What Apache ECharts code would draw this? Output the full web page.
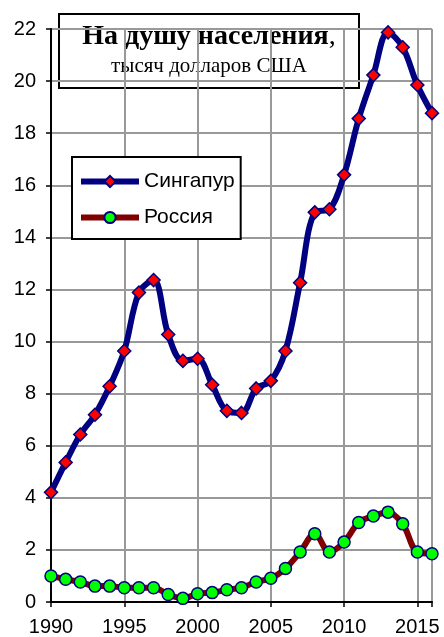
<!DOCTYPE html>
<html>
<head>
<meta charset="utf-8">
<script src="https://cdn.jsdelivr.net/npm/echarts@6/dist/echarts.min.js"></script>
<style>
  html, body { margin: 0; padding: 0; background: #fff; }
  #chart { width: 444px; height: 637px; }
</style>
</head>
<body>
<div id="chart"></div>
<script>
// годы
const years = [1990, 1991, 1992, 1993, 1994, 1995, 1996, 1997, 1998, 1999,
  2000, 2001, 2002, 2003, 2004, 2005, 2006, 2007, 2008, 2009,
  2010, 2011, 2012, 2013, 2014, 2015, 2016]
// Сингапур, тыс. долл. на душу
const singapore = [4.21, 5.36, 6.43, 7.19, 8.28, 9.64, 11.88, 12.36, 10.27, 9.26,
  9.34, 8.34, 7.34, 7.26, 8.20, 8.49, 9.64, 12.26, 14.96, 15.08,
  16.40, 18.56, 20.23, 21.87, 21.30, 19.85, 18.77]
// Россия
const russia = [1.00, 0.87, 0.77, 0.61, 0.61, 0.55, 0.55, 0.55, 0.29, 0.14,
  0.32, 0.36, 0.47, 0.55, 0.77, 0.91, 1.29, 1.92, 2.62, 1.92,
  2.30, 3.05, 3.30, 3.45, 3.00, 1.92, 1.85]
const yTicks = [0, 2, 4, 6, 8, 10, 12, 14, 16, 18, 20, 22]

const chart = echarts.init(document.getElementById('chart'))

const pairs = arr => arr.map((v, i) => [years[i], v])

chart.setOption({
  backgroundColor: '#fff',
  animation: false,
  grid: {
    left: 51,
    right: 12,
    top: 29,
    bottom: 34
  },
  xAxis: {
    type: 'value',
    min: 1990,
    max: 2016,
    interval: 5,
    axisLine: { lineStyle: { color: '#000', width: 2 } },
    axisTick: { show: true, length: 5, lineStyle: { color: '#000', width: 1.5 } },
    axisLabel: {
      color: '#000',
      fontSize: 20,
      fontFamily: 'Liberation Sans',
      margin: 15,
      formatter: v => (v === 2016 ? '' : String(v))
    },
    splitLine: { show: true, lineStyle: { color: '#999', width: 2 } }
  },
  yAxis: {
    type: 'value',
    min: yTicks[0],
    max: yTicks[yTicks.length - 1],
    interval: 2,
    axisLine: { show: true, lineStyle: { color: '#000', width: 2 } },
    axisTick: { show: true, length: 5, lineStyle: { color: '#000', width: 1.5 } },
    axisLabel: {
      color: '#000',
      fontSize: 20,
      fontFamily: 'Liberation Sans',
      margin: 15
    },
    splitLine: { show: true, lineStyle: { color: '#999', width: 2 } }
  },
  legend: {
    orient: 'vertical',
    left: 72,
    top: 157,
    backgroundColor: '#fff',
    borderColor: '#000',
    borderWidth: 2,
    padding: [14, 6, 11, 6],
    itemWidth: 58,
    itemHeight: 14,
    itemGap: 15,
    lineStyle: { width: 6 },
    textStyle: { color: '#000', fontSize: 21, fontFamily: 'Liberation Sans' },
    data: ['Сингапур', 'Россия']
  },
  graphic: [{
    type: 'group',
    left: 58,
    top: 13,
    z: 100,
    children: [{
      type: 'rect',
      shape: { x: 0, y: 0, width: 300, height: 74 },
      style: { fill: '#fff', stroke: '#000', lineWidth: 2 }
    }, {
      type: 'text',
      x: 150,
      y: 9,
      style: {
        text: '{b|На душу населения}{n|,}',
        align: 'center',
        rich: {
          b: { fontFamily: 'Liberation Serif', fontWeight: 'bold', fontSize: 28, fill: '#000' },
          n: { fontFamily: 'Liberation Serif', fontSize: 28, fill: '#000' }
        }
      }
    }, {
      type: 'text',
      x: 150,
      y: 42,
      style: {
        text: 'тысяч долларов США',
        align: 'center',
        fontFamily: 'Liberation Serif',
        fontSize: 21,
        fill: '#000'
      }
    }]
  }],
  series: [{
    name: 'Россия',
    type: 'line',
    data: pairs(russia),
    smooth: 0.35,
    symbol: 'circle',
    symbolSize: 12,
    lineStyle: { color: '#800000', width: 6 },
    itemStyle: { color: '#00ff00', borderColor: '#000080', borderWidth: 1.5 }
  }, {
    name: 'Сингапур',
    type: 'line',
    data: pairs(singapore),
    smooth: 0.35,
    symbol: 'diamond',
    symbolSize: 13,
    lineStyle: { color: '#000080', width: 6 },
    itemStyle: { color: '#ff0000', borderColor: '#000080', borderWidth: 1.5 }
  }]
})
</script>
</body>
</html>
